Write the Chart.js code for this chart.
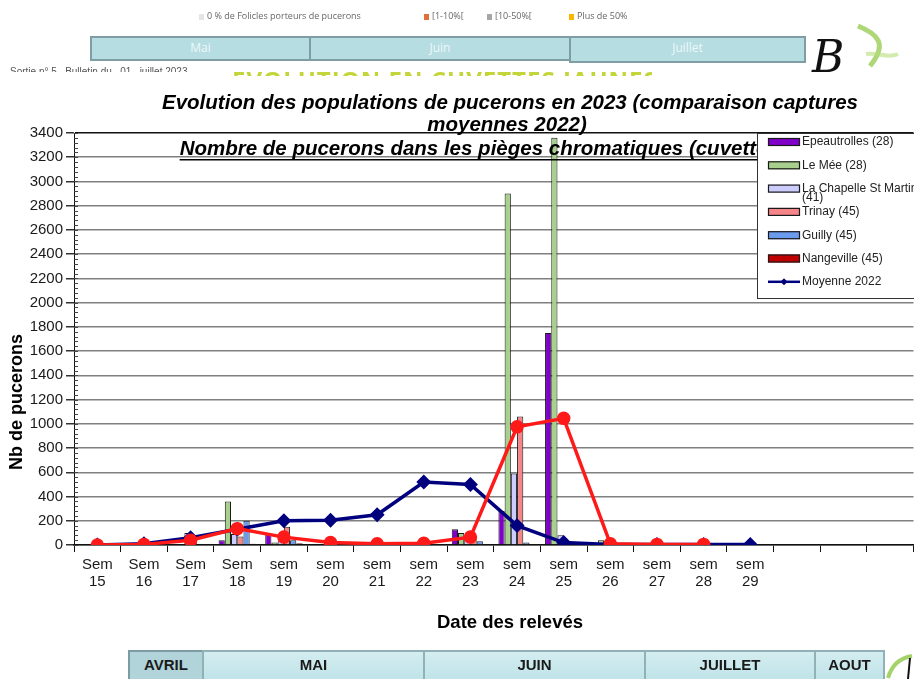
<!DOCTYPE html>
<html lang="fr">
<head>
<meta charset="UTF-8">
<title>Evolution des populations de pucerons en 2023</title>
<style>
  body { margin:0; background:#fff; width:914px; height:679px; overflow:hidden; position:relative; font-family:"Liberation Sans", Arial, sans-serif; }
  #myChart { position:absolute; left:0; top:0; }
  .abs { position:absolute; }
  .leg { font:9px "Open Sans", sans-serif; color:#666; top:9px; white-space:nowrap; }
  .sq { display:inline-block; width:5px; height:6px; margin-right:3px; vertical-align:-1px; }
  .mois { box-sizing:border-box; background:#b5dde2; border:2px solid #7f9ea3; color:#eef8f9; text-align:center; font:12px "Open Sans", sans-serif; line-height:20px; }
  .mois2 { box-sizing:border-box; background:linear-gradient(#d4edf0, #bde2e7); border:2px solid #90b2b7; color:#1a1a1a; text-align:center; font:600 15px "Liberation Sans Narrow", "Liberation Sans", sans-serif; line-height:25px; height:34px; top:650px; }
  .clip { overflow:hidden; white-space:nowrap; }
</style>
</head>
<body>
<canvas id="myChart" width="922" height="679"></canvas>

<!-- bandeau du haut (capture du bulletin) -->
<div class="abs leg" style="left:199px"><span class="sq" style="background:#e4e4e4"></span>0 % de Folicles porteurs de pucerons</div>
<div class="abs leg" style="left:424px"><span class="sq" style="background:#e2703a"></span>[1-10%[</div>
<div class="abs leg" style="left:487px"><span class="sq" style="background:#a6a6a6"></span>[10-50%[</div>
<div class="abs leg" style="left:569px"><span class="sq" style="background:#fbb800"></span>Plus de 50%</div>
<div class="abs mois" style="left:90px;top:36px;width:221px;height:25px">Mai</div>
<div class="abs mois" style="left:309px;top:36px;width:262px;height:25px">Juin</div>
<div class="abs mois" style="left:569px;top:36px;width:237px;height:27px">Juillet</div>
<div class="abs clip" style="left:10px;top:66px;width:330px;height:6px;font:10px 'Liberation Sans';color:#555">Sortie n° 5 &nbsp; Bulletin du &nbsp; 01 &nbsp; juillet 2023</div>
<div class="abs clip" style="left:232px;top:63px;width:420px;height:13px;font:bold 24px 'Open Sans';color:#c4d53a;letter-spacing:1px">EVOLUTION EN CUVETTES JAUNES</div>
<svg class="abs" style="left:808px;top:14px" width="106" height="70">
  <path d="M50 12 C70 20 80 30 62 52" stroke="#8cc63f" stroke-width="5" fill="none" opacity="0.7"/>
  <path d="M58 40 C70 38 80 45 90 40" stroke="#b6dd7a" stroke-width="4" fill="none" opacity="0.6"/>
  <text x="4" y="58" font-family="DejaVu Serif" font-style="italic" font-size="44" fill="#111">B</text>
</svg>

<!-- bandeau du bas -->
<div class="abs mois2" style="left:128px;width:76px;background:#b0d4da;border-color:#7c9ca1">AVRIL</div>
<div class="abs mois2" style="left:202px;width:223px">MAI</div>
<div class="abs mois2" style="left:423px;width:223px">JUIN</div>
<div class="abs mois2" style="left:644px;width:172px">JUILLET</div>
<div class="abs mois2" style="left:814px;width:71px">AOUT</div>
<svg class="abs" style="left:884px;top:652px" width="30" height="27">
  <path d="M4 26 C8 12 16 6 28 4" stroke="#a5d36b" stroke-width="4" fill="none"/>
  <path d="M26 6 L24 27" stroke="#111" stroke-width="2" fill="none"/>
</svg>

<script src="https://cdn.jsdelivr.net/npm/chart.js"></script>
<script>
    // semaines de relevé (les 3 dernières catégories sont vides, l'axe continue à droite)
    const semaines = ['Sem 15', 'Sem 16', 'Sem 17', 'Sem 18', 'sem 19', 'sem 20', 'sem 21', 'sem 22',
                      'sem 23', 'sem 24', 'sem 25', 'sem 26', 'sem 27', 'sem 28', 'sem 29', '', '', ''];

    // captures par site (nb de pucerons)
    const epeautrolles = [null, null, null, 40, 90, null, null, null, 130, 280, 1750, null, null, null, null];
    const leMee        = [null, null, null, 360, 20, null, null, null, 100, 2900, 3360, 40, null, null, null];
    const laChapelle   = [null, null, 100, 90, 30, null, null, null, 80, 590, 80, null, null, null, null];
    const trinay       = [null, null, 20, 70, 150, null, null, null, 60, 1060, null, null, null, null, null];
    const guilly       = [null, null, null, 200, 40, null, null, 10, 30, 20, null, null, null, null, null];
    const nangeville   = [null, null, null, 10, 15, null, null, null, null, null, null, null, null, null, null];

    // moyennes
    const moyenne2022 = [0, 10, 60, 130, 200, 205, 250, 520, 500, 160, 20, 5, 5, 5, 5];
    const moyenne2023 = [0, 5, 40, 135, 65, 20, 10, 15, 65, 975, 1045, 10, 5, 5, null];

    const sites = ['Epeautrolles (28)', 'Le Mée (28)', 'La Chapelle St Martin (41)', 'Trinay (45)', 'Guilly (45)', 'Nangeville (45)'];
    const couleurs = ['#7f00c8', '#a8d08d', '#ccccff', '#f4868a', '#6b9bef', '#c00000'];
    const series = [epeautrolles, leMee, laChapelle, trinay, guilly, nangeville];

    const titre = ['Evolution des populations de pucerons en 2023 (comparaison captures', 'moyennes 2022)'];
    const sousTitre = 'Nombre de pucerons dans les pièges chromatiques (cuvettes jaunes)';

    const police = '"Liberation Sans", Arial, sans-serif';

    const datasets = series.map((d, i) => ({
        type: 'bar',
        label: sites[i],
        data: d,
        backgroundColor: couleurs[i],
        borderColor: '#1a1a1a',
        borderWidth: 1,
        categoryPercentage: 0.8,
        barPercentage: 1.0,
        order: 2
    }));
    datasets.push({
        type: 'line',
        label: 'Moyenne 2022',
        data: moyenne2022,
        borderColor: '#00007f',
        backgroundColor: '#00007f',
        borderWidth: 3.5,
        pointStyle: 'rectRot',
        pointRadius: 5,
        order: 1
    });
    datasets.push({
        type: 'line',
        label: 'Moyenne 2023',
        data: moyenne2023,
        borderColor: '#ff1a1a',
        backgroundColor: '#ff1a1a',
        borderWidth: 3.5,
        pointStyle: 'circle',
        pointRadius: 5,
        order: 0
    });

    // titres, petites graduations, légende dans la zone de tracé
    const decor = {
        id: 'decor',
        afterDraw(chart) {
            const ctx = chart.ctx;
            const a = chart.chartArea;
            const y = chart.scales.y;
            ctx.save();

            ctx.strokeStyle = '#444';
            ctx.lineWidth = 1;
            for (let v = 0; v <= 3400; v += 40) {
                const py = Math.round(y.getPixelForValue(v)) + 0.5;
                ctx.beginPath();
                ctx.moveTo(a.left, py);
                ctx.lineTo(a.left + 4, py);
                ctx.stroke();
            }

            ctx.fillStyle = '#000';
            ctx.textAlign = 'center';
            ctx.textBaseline = 'middle';
            ctx.font = 'italic bold 20.5px ' + police;
            ctx.fillText(titre[0], 510, 103);
            ctx.fillText(titre[1], 507, 125);
            ctx.fillText(sousTitre, 518, 149);
            const w = ctx.measureText(sousTitre).width;
            ctx.fillRect(518 - w / 2, 159, w, 1.5);

            ctx.font = 'bold 18.5px ' + police;
            ctx.fillText('Date des relevés', 510, 623);
            ctx.save();
            ctx.translate(17, 402);
            ctx.rotate(-Math.PI / 2);
            ctx.font = 'bold 18px ' + police;
            ctx.fillText('Nb de pucerons', 0, 0);
            ctx.restore();

            // légende
            ctx.fillStyle = '#fff';
            ctx.fillRect(757, 133, 170, 165);
            ctx.strokeStyle = '#333';
            ctx.strokeRect(757.5, 133.5, 170, 165);
            ctx.font = '12px ' + police;
            ctx.textAlign = 'left';
            chart.data.datasets.slice(0, 7).forEach((ds, i) => {
                const cy = 142 + i * 23.3;
                if (ds.type === 'bar') {
                    ctx.fillStyle = ds.backgroundColor;
                    ctx.fillRect(768, cy - 4, 32, 8);
                    ctx.strokeStyle = '#1a1a1a';
                    ctx.lineWidth = 1.2;
                    ctx.strokeRect(768.5, cy - 3.5, 31, 7);
                } else {
                    ctx.strokeStyle = ds.borderColor;
                    ctx.lineWidth = 2.5;
                    ctx.beginPath();
                    ctx.moveTo(768, cy);
                    ctx.lineTo(800, cy);
                    ctx.stroke();
                    ctx.fillStyle = ds.borderColor;
                    ctx.beginPath();
                    ctx.moveTo(784, cy - 3.5);
                    ctx.lineTo(787.5, cy);
                    ctx.lineTo(784, cy + 3.5);
                    ctx.lineTo(780.5, cy);
                    ctx.fill();
                }
                ctx.fillStyle = '#222';
                // retour à la ligne comme dans Excel
                const mots = ds.label.split(' ');
                let ligne = '', lignes = [];
                mots.forEach(m => {
                    const t = ligne ? ligne + ' ' + m : m;
                    if (ctx.measureText(t).width > 125 && ligne) { lignes.push(ligne); ligne = m; }
                    else ligne = t;
                });
                lignes.push(ligne);
                lignes.forEach((l, k) => ctx.fillText(l, 802, cy + k * 9));
            });
            ctx.restore();
        }
    };

    const ctx = document.getElementById('myChart').getContext('2d');
    new Chart(ctx, {
        data: {
            labels: semaines.map(s => s ? s.split(' ') : ''),
            datasets: datasets
        },
        options: {
            responsive: false,
            animation: false,
            layout: { padding: { top: 133, bottom: 84, left: 0, right: 0 } },
            plugins: {
                legend: { display: false },
                title: { display: false },
                tooltip: { enabled: false }
            },
            scales: {
                x: {
                    type: 'category',
                    offset: true,
                    afterFit(s) { s.height = 50; },
                    grid: { display: true, drawOnChartArea: false, drawTicks: true, tickLength: 7, tickColor: '#111', offset: true },
                    border: { color: '#111', width: 1.5 },
                    ticks: { autoSkip: false, maxRotation: 0, padding: 4, color: '#1a1a1a', font: { family: police, size: 15, lineHeight: 1.15 } }
                },
                y: {
                    min: 0,
                    max: 3400,
                    afterFit(s) { s.width = 74; },
                    ticks: {
                        stepSize: 200,
                        padding: 3,
                        color: '#1a1a1a',
                        font: { family: police, size: 15 },
                        callback: v => String(v)
                    },
                    grid: {
                        color: c => c.tick.value === 3400 ? '#111' : '#808080',
                        lineWidth: 1.5,
                        tickLength: 8,
                        tickColor: '#333'
                    },
                    border: { color: '#111', width: 1 }
                }
            }
        },
        plugins: [decor]
    });
</script>
</body>
</html>
